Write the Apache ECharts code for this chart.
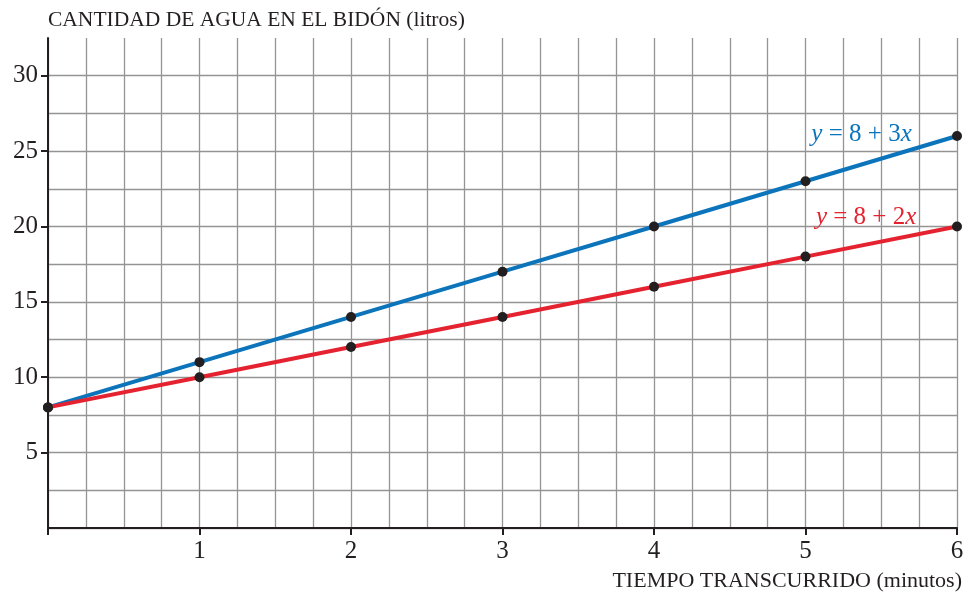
<!DOCTYPE html>
<html>
<head>
<meta charset="utf-8">
<script src="https://cdn.jsdelivr.net/npm/echarts@6/dist/echarts.min.js"></script>
<style>
  html, body { margin: 0; padding: 0; background: #fff; }
  #main { width: 968px; height: 597px; }
</style>
</head>
<body>
<div id="main"></div>
<script>
// datos
var minutos = [0, 1, 2, 3, 4, 5, 6];
var bidonAzul = [8, 11, 14, 17, 20, 23, 26];   // y = 8 + 3x
var bidonRojo = [8, 10, 12, 14, 16, 18, 20];   // y = 8 + 2x
var xTicks = [0, 1, 2, 3, 4, 5, 6];
var yTicks = [5, 10, 15, 20, 25, 30];

var FONT = '"Liberation Serif", "DejaVu Serif", serif';

function pares(xs, ys) {
  return xs.map(function (x, i) { return [x, ys[i]]; });
}

var myChart = echarts.init(document.getElementById('main'));

option = {
  backgroundColor: '#fff',
  animation: false,
  title: {
    text: 'CANTIDAD DE AGUA EN EL BIDÓN (litros)',
    left: 43,
    top: 4,
    textStyle: { fontFamily: FONT, fontSize: 21.5, fontWeight: 'normal', color: '#231f20' }
  },
  grid: { left: 48, right: 11, top: 38, bottom: 69 },
  xAxis: [{
    type: 'value',
    min: 0, max: 6, interval: 1,
    name: 'TIEMPO TRANSCURRIDO (minutos)',
    nameLocation: 'end',
    nameGap: 5,
    nameTextStyle: {
      fontFamily: FONT, fontSize: 22, color: '#231f20',
      align: 'right', verticalAlign: 'top', padding: [42, 0, 0, 0]
    },
    axisLine: { show: true, onZero: false, lineStyle: { color: '#231f20', width: 2 } },
    axisTick: { show: true, length: 7, customValues: xTicks, lineStyle: { color: '#231f20', width: 2 } },
    axisLabel: {
      fontFamily: FONT, fontSize: 25, color: '#231f20', margin: 11,
      customValues: [1, 2, 3, 4, 5, 6]
    },
    splitLine: { show: false },
    z: 5
  }, {
    type: 'value',
    min: 0, max: 6, interval: 0.25,
    axisLine: { show: false },
    axisTick: { show: false },
    axisLabel: { show: false },
    splitLine: { show: true, lineStyle: { color: '#949494', width: 1.3 } }
  }],
  yAxis: [{
    type: 'value',
    min: 0, max: 32.5, interval: 5,
    axisLine: { show: true, onZero: false, lineStyle: { color: '#231f20', width: 2 } },
    axisTick: { show: true, length: 7, customValues: yTicks, lineStyle: { color: '#231f20', width: 2 } },
    axisLabel: {
      fontFamily: FONT, fontSize: 25, color: '#231f20', margin: 10,
      customValues: yTicks
    },
    splitLine: { show: false },
    z: 5
  }, {
    type: 'value',
    min: 0, max: 32.5, interval: 2.5,
    axisLine: { show: false },
    axisTick: { show: false },
    axisLabel: { show: false },
    splitLine: { show: true, showMaxLine: false, lineStyle: { color: '#949494', width: 1.3 } }
  }],
  series: [{
    name: 'y = 8 + 3x',
    type: 'line',
    data: pares(minutos, bidonAzul),
    lineStyle: { color: '#0b74bb', width: 4 },
    symbol: 'circle',
    symbolSize: 10,
    itemStyle: { color: '#231f20' },
    z: 3,
    markPoint: {
      symbol: 'circle', symbolSize: 0,
      data: [{ coord: [5.37, 26.1] }],
      label: {
        show: true,
        formatter: '{i|y} = 8 + 3{i|x}',
        color: '#0b74bb', fontFamily: FONT, fontSize: 25,
        rich: { i: { fontStyle: 'italic', fontFamily: FONT, fontSize: 25, color: '#0b74bb' } }
      }
    }
  }, {
    name: 'y = 8 + 2x',
    type: 'line',
    data: pares(minutos, bidonRojo),
    lineStyle: { color: '#e52330', width: 4 },
    symbol: 'circle',
    symbolSize: 10,
    itemStyle: { color: '#231f20' },
    z: 4,
    markPoint: {
      symbol: 'circle', symbolSize: 0,
      data: [{ coord: [5.4, 20.6] }],
      label: {
        show: true,
        formatter: '{i|y} = 8 + 2{i|x}',
        color: '#e52330', fontFamily: FONT, fontSize: 25,
        rich: { i: { fontStyle: 'italic', fontFamily: FONT, fontSize: 25, color: '#e52330' } }
      }
    }
  }]
};
myChart.setOption(option);
</script>
</body>
</html>
